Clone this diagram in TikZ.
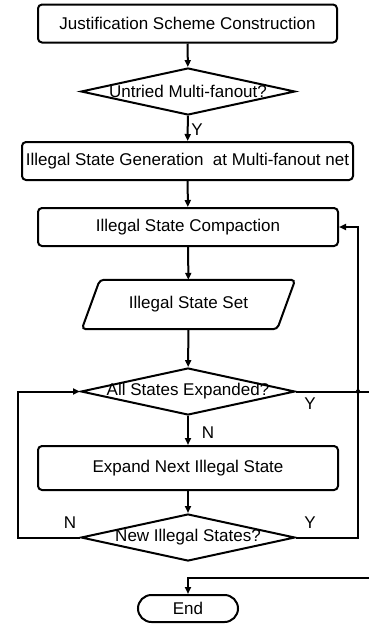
\documentclass[tikz,border=0pt]{standalone}
\usepackage{fontspec}
\setmainfont{Liberation Sans}
\usetikzlibrary{shapes.geometric,shapes.misc,arrows.meta}
\begin{document}
\begin{tikzpicture}[x=1pt,y=-1pt,
  every node/.style={font=\fontsize{17pt}{20pt}\selectfont},
  box/.style={draw,rectangle,rounded corners=4pt,line width=2pt,inner sep=0pt,minimum height=38pt},
  dec/.style={draw,diamond,line width=2pt,inner sep=0pt,minimum width=214pt,minimum height=47pt},
  term/.style={draw,rounded rectangle,line width=2pt,inner sep=0pt,minimum width=100pt,minimum height=27pt},
  flow/.style={line width=2pt,-{Triangle[length=7pt,width=6pt]}},
  wire/.style={line width=2pt},
  lbl/.style={inner sep=0pt}]
\useasboundingbox (0,0) rectangle (369,630);
\node[box,minimum width=299pt] (b1) at (187.5,23.5) {Justification Scheme Construction};
\node[dec,label={center:Untried Multi-fanout?}] (d1) at (188,91.5) {};
\node[box,minimum width=331pt] (b2) at (187.5,161) {Illegal State Generation\ \ at Multi-fanout net};
\node[box,minimum width=300pt] (b3) at (188,227) {Illegal State Compaction};
\node[inner sep=0pt,minimum width=195pt,minimum height=49pt] (set) at (188.5,304.5) {Illegal State Set};
\draw[line width=2pt,rounded corners=4pt] ([xshift=9pt]set.north west) -- ([xshift=9pt]set.north east) -- ([xshift=-9pt]set.south east) -- ([xshift=-9pt]set.south west) -- cycle;
\node[dec,label={center:All States Expanded?}] (d2) at (188,391.5) {};
\node[box,minimum width=300pt,minimum height=44pt] (b4) at (188,468) {Expand Next Illegal State};
\node[dec,label={center:New Illegal States?}] (d3) at (188,537.5) {};
\node[term] (end) at (188,608.5) {End};
\coordinate (rl) at (358,0);
\coordinate (ll) at (18,0);
\coordinate (r2) at (369,391.5);
\coordinate (jn) at (358,391.5);
\coordinate (r3) at (369,578);
\draw[flow] (b1) -- (d1);
\draw[flow] (d1) -- (b2);
\draw[flow] (b2) -- (b3);
\draw[flow] (b3) -- (set);
\draw[flow] (set) -- (d2);
\draw[flow] (d2) -- (b4);
\draw[flow] (b4) -- (d3);
\draw[flow] (d3.west) -- (d3.west -| ll) -- (d2.west -| ll) -- (d2.west);
\draw[flow] (d3.east) -- (d3.east -| rl) -- (b3.east -| rl) -- (b3.east);
\draw[wire] (d2.east) -- (r2);
\fill (jn) circle (2.2pt);
\draw[flow] (r3) -- (r3 -| end.north) -- (end.north);
\node[lbl] at (197,130) {Y};
\node[lbl] at (310,404) {Y};
\node[lbl] at (208,433) {N};
\node[lbl] at (70,523) {N};
\node[lbl] at (310,523) {Y};
\end{tikzpicture}
\end{document}
